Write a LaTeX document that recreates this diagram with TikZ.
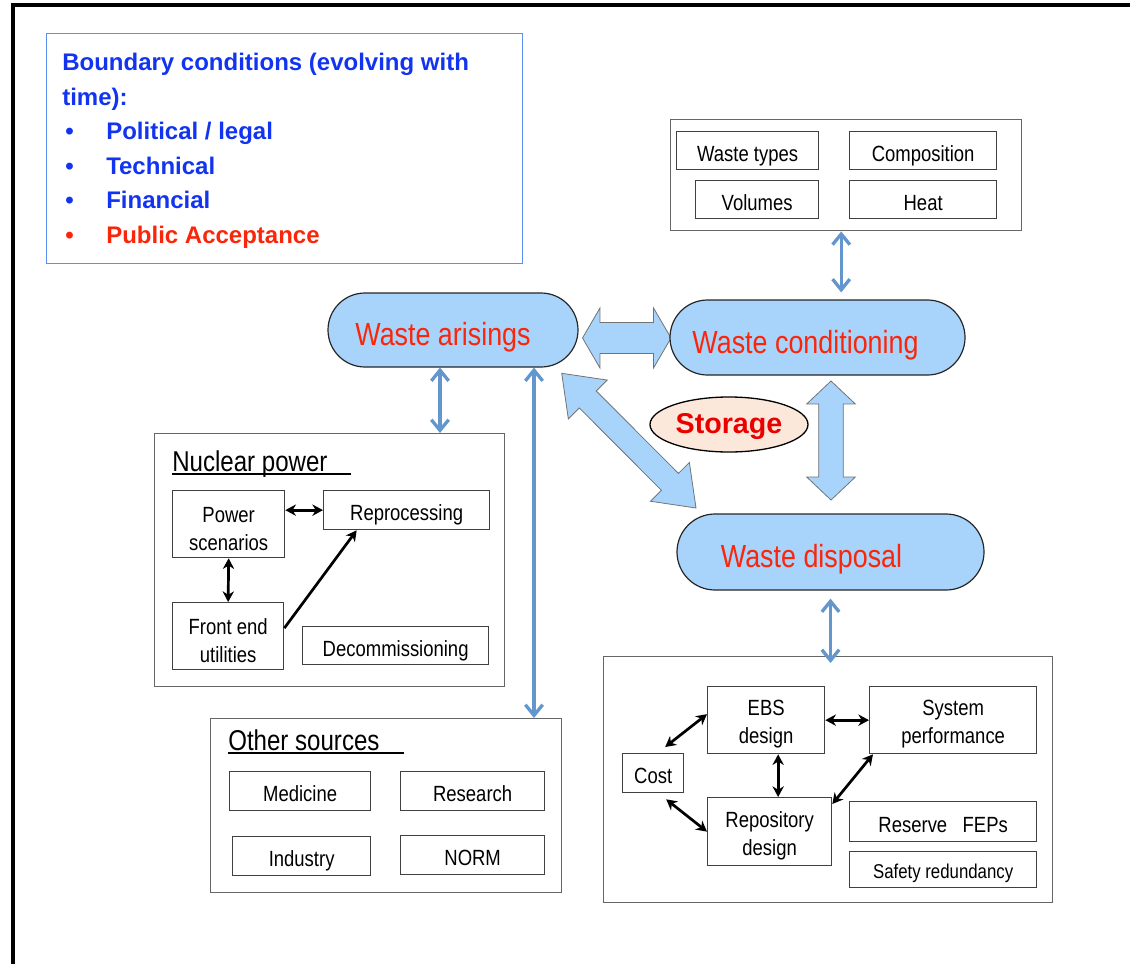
\documentclass[tikz,border=0pt]{standalone}
\usepackage{fontspec}
\setmainfont{Liberation Sans}
\newfontfamily\narrowsf[FakeStretch=0.84]{Liberation Sans}
\usepackage{xcolor}
\usetikzlibrary{arrows.meta,positioning,calc,shapes.geometric,shapes.misc}

\newlength{\upx}\setlength{\upx}{0.75pt}
\definecolor{capblue}{RGB}{168,212,252}
\definecolor{linkblue}{RGB}{98,150,204}
\definecolor{bcblue}{RGB}{18,52,240}
\definecolor{bcframe}{RGB}{90,145,240}
\definecolor{wred}{RGB}{250,38,10}
\definecolor{storred}{RGB}{235,0,0}
\definecolor{storfill}{RGB}{252,232,218}
\newcommand{\bitem}[1]{\makebox[44\upx][l]{\hspace{3\upx}\textbullet}#1}
\newcommand{\lift}{\rule{0pt}{18pt}}
% block double arrow between two tips: #3 head length, #4 half head, #5 half shaft
\newcommand{\blockarrow}[5]{%
  \draw[flow] (#1) -- ($(#1)!#3!(#2)!#4!90:(#2)$) -- ($(#1)!#3!(#2)!#5!90:(#2)$)
    -- ($(#2)!#3!(#1)!#5!-90:(#1)$) -- ($(#2)!#3!(#1)!#4!-90:(#1)$) -- (#2)
    -- ($(#2)!#3!(#1)!#4!90:(#1)$) -- ($(#2)!#3!(#1)!#5!90:(#1)$)
    -- ($(#1)!#3!(#2)!#5!-90:(#2)$) -- ($(#1)!#3!(#2)!#4!-90:(#2)$) -- cycle;}

\begin{document}
\begin{tikzpicture}[x=0.75pt, y=-0.75pt,
  group/.style={draw=black!60, line width=1.4\upx, anchor=north west, inner sep=0pt},
  item/.style={draw=black!75, line width=1.3\upx, anchor=north west, inner sep=0pt, align=center, font=\narrowsf\fontsize{16.5}{21}\selectfont},
  oneline/.style={item, text height=16pt, text depth=0pt},
  stage/.style={rounded rectangle, draw=black!85, line width=1.2\upx, fill=capblue, text=wred, inner sep=0pt, font=\narrowsf\fontsize{24}{28}\selectfont},
  flow/.style={draw=black!55, line width=0.8\upx, fill=capblue, line join=miter},
  link/.style={{Straight Barb[length=8pt,width=13pt]}-{Straight Barb[length=8pt,width=13pt]}, draw=linkblue, line width=3.3\upx},
  pair/.style={{Stealth[length=8pt,width=8.5pt]}-{Stealth[length=8pt,width=8.5pt]}, line width=2.7\upx},
  head/.style={font=\narrowsf\fontsize{21.5}{24}\selectfont, inner sep=0pt, anchor=base west}]
  \useasboundingbox (0,0) rectangle (1130,963);
  \draw[line width=4\upx] (12.5,5.5) rectangle (1200,1050);

  % boundary conditions
  \node[draw=bcframe, line width=1.4\upx, anchor=north west, minimum width=476\upx, minimum height=230\upx, inner sep=0pt] (bc) at (46,33) {};
  \node[align=left, inner sep=0pt, text=bcblue, font=\bfseries\fontsize{18}{25.9}\selectfont,
        below right=20\upx and 16\upx of bc.north west] (bct)
     {Boundary conditions (evolving with\\time):\\\bitem{Political / legal}\\\bitem{Technical}\\\bitem{Financial}\\{\color{wred}\bitem{Public Acceptance}}};

  % waste properties
  \node[group, minimum width=351\upx, minimum height=111\upx] (wtop) at (670,119) {};
  \node[oneline, minimum width=142\upx, minimum height=38\upx] (wtypes) at (676,131) {Waste types};
  \node[oneline, minimum width=147\upx, minimum height=38\upx] (comp) at (849,131) {Composition};
  \node[oneline, minimum width=123\upx, minimum height=38\upx] (vol) at (695,180) {Volumes};
  \node[oneline, minimum width=147\upx, minimum height=38\upx] (heat) at (849,180) {Heat};

  % main stages
  \coordinate (tac1) at (582.5,338);   \coordinate (tac2) at (671,338);
  \coordinate (tcd1) at (831,381);     \coordinate (tcd2) at (831,500);
  \coordinate (tad1) at (561.7,373.3); \coordinate (tad2) at (696,508);
  \blockarrow{tac1}{tac2}{13.1pt}{22.5pt}{11.6pt}
  \blockarrow{tcd1}{tcd2}{17.2pt}{18.2pt}{9.2pt}
  \blockarrow{tad1}{tad2}{27.7pt}{20.6pt}{9pt}
  \node[stage, minimum width=250\upx, minimum height=74\upx] (arise) at (453,330) {\raisebox{-15\upx}[0pt][0pt]{Waste arisings}\hspace*{20\upx}};
  \node[stage, minimum width=295\upx, minimum height=75\upx] (cond) at (817.5,337.5) {\raisebox{-15.5\upx}[0pt][0pt]{Waste conditioning}\hspace*{24\upx}};
  \node[stage, minimum width=307\upx, minimum height=76\upx] (disp) at (830.5,552) {\raisebox{-15\upx}[0pt][0pt]{Waste disposal}\hspace*{38\upx}};
  \node[ellipse, draw, line width=1.3\upx, fill=storfill, text=storred, inner sep=0pt,
        font=\bfseries\fontsize{21.5}{24}\selectfont, minimum width=158\upx, minimum height=55\upx] (stor) at (729,424.5) {\raisebox{-8.5\upx}[0pt][0pt]{Storage}};

  % nuclear power
  \node[group, minimum width=350\upx, minimum height=253\upx] (nuc) at (154,433) {};
  \node[head] (nph) at (172,471) {Nuclear power};
  \draw[line width=1.3\upx] ([yshift=-3\upx]nph.base west) -- ++(179,0);
  \node[item, minimum width=112\upx, minimum height=67\upx] (ps) at (172,490) {\lift Power\\scenarios};
  \node[oneline, minimum width=166\upx, minimum height=39\upx] (rep) at (323,490) {Reprocessing};
  \node[item, minimum width=111\upx, minimum height=67\upx] (fe) at (172,602) {\lift Front end\\utilities};
  \node[oneline, minimum width=186\upx, minimum height=38\upx] (dec) at (302,626) {Decommissioning};
  \draw[pair] (ps.east |- rep.west) -- (rep.west);
  \draw[pair] (ps.south) -- (fe.north);
  \draw[-{Stealth[length=8pt,width=8.5pt]}, line width=2.7\upx] ([yshift=8\upx]fe.east) -- ([xshift=-50\upx]rep.south);

  % other sources
  \node[group, minimum width=351\upx, minimum height=174\upx] (oth) at (210,718) {};
  \node[head] (osh) at (228,750) {Other sources};
  \draw[line width=1.3\upx] ([yshift=-3\upx]osh.base west) -- ++(176,0);
  \node[oneline, minimum width=141\upx, minimum height=39\upx] (med) at (229,771) {Medicine};
  \node[oneline, minimum width=144\upx, minimum height=39\upx] (res) at (400,771) {Research};
  \node[oneline, minimum width=138\upx, minimum height=39\upx] (ind) at (232,836) {Industry};
  \node[oneline, minimum width=144\upx, minimum height=39\upx] (norm) at (400,835) {NORM};

  % repository
  \node[group, minimum width=449\upx, minimum height=246\upx] (rbox) at (603,656) {};
  \node[item, minimum width=117\upx, minimum height=67\upx] (ebs) at (707,686) {\lift EBS\\design};
  \node[item, minimum width=167\upx, minimum height=67\upx] (sys) at (869,686) {\lift System\\performance};
  \node[oneline, minimum width=61\upx, minimum height=39\upx] (cost) at (622,753) {Cost};
  \node[item, minimum width=124\upx, minimum height=68\upx] (repo) at (707,797) {\lift Repository\\design};
  \node[oneline, minimum width=187\upx, minimum height=40\upx] (fep) at (849,801) {Reserve\ \ \ FEPs};
  \node[oneline, minimum width=187\upx, minimum height=36\upx, font=\narrowsf\fontsize{15}{18}\selectfont, text height=14pt] (saf) at (849,851) {Safety redundancy};
  \draw[pair] (ebs.east) -- (sys.west);
  \draw[pair] ([xshift=12\upx]ebs.south) -- ([xshift=12\upx]ebs.south |- repo.north);
  \draw[pair] ([shift={(12\upx,6\upx)}]cost.north) -- ([yshift=6\upx]ebs.west);
  \draw[pair] ([shift={(13\upx,-6\upx)}]cost.south) -- (repo.west);
  \draw[pair] ([yshift=-7\upx]repo.north east) -- ([xshift=4\upx]sys.south west);

  % links
  \draw[link, shorten >=7\upx] ([xshift=-5\upx]wtop.south) -- ([xshift=-5\upx]wtop.south |- cond.north);
  \draw[link] ([xshift=-13\upx]arise.south) -- ([xshift=-13\upx]arise.south |- nuc.north);
  \draw[link] ([xshift=81\upx]arise.south) -- ([xshift=81\upx]arise.south |- oth.north);
  \draw[link, shorten <=8\upx] (disp.south) -- ([yshift=-7\upx]disp.south |- rbox.north);
\end{tikzpicture}
\end{document}
